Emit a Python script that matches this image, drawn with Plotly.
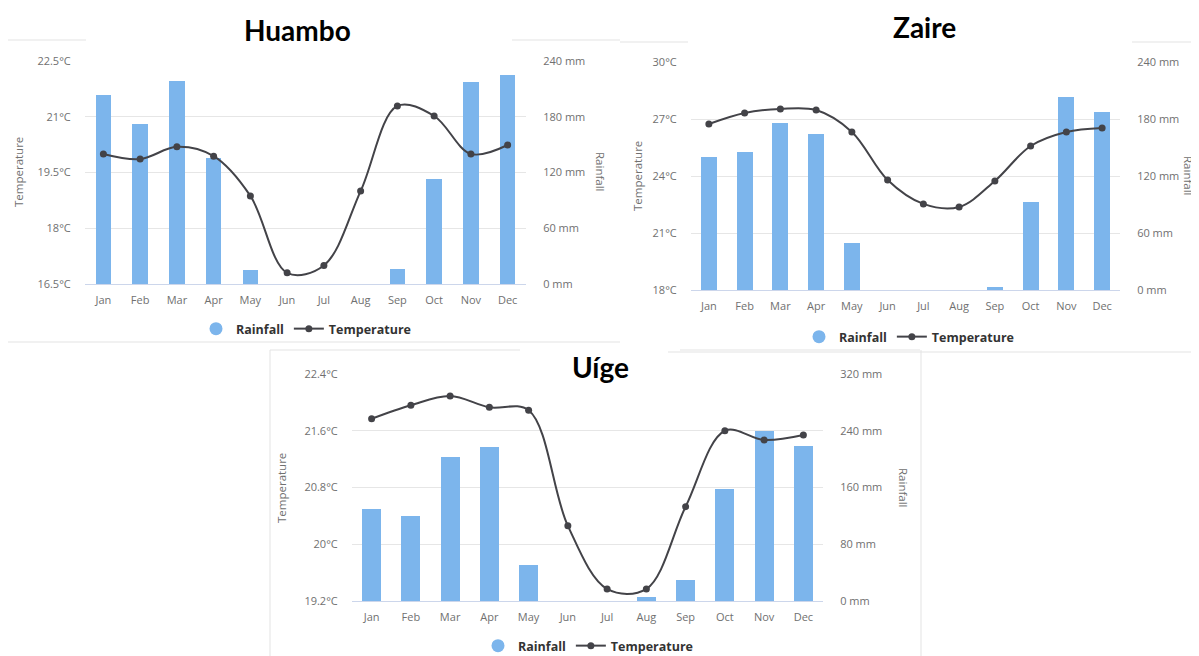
import plotly.graph_objects as go

months = ["Jan", "Feb", "Mar", "Apr", "May", "Jun", "Jul", "Aug", "Sep", "Oct", "Nov", "Dec"]

huambo_rain = [203, 172, 219, 136, 15, 0, 0, 0, 16, 113, 217, 225]
huambo_temp = [20.0, 19.86, 20.19, 19.94, 18.87, 16.8, 17.0, 19.0, 21.29, 21.02, 20.0, 20.24]

zaire_rain = [140, 145, 176, 164, 50, 0, 0, 0, 3, 93, 203, 187]
zaire_temp = [26.74, 27.32, 27.53, 27.47, 26.32, 23.79, 22.53, 22.37, 23.74, 25.58, 26.32, 26.53]

uige_rain = [130, 120, 203, 217, 51, 0, 0, 6, 30, 158, 240, 218]
uige_temp = [21.77, 21.96, 22.09, 21.93, 21.89, 20.26, 19.37, 19.37, 20.53, 21.6, 21.47, 21.54]

huambo_temp_ticks = [16.5, 18, 19.5, 21, 22.5]
huambo_temp_text = ["16.5°C", "18°C", "19.5°C", "21°C", "22.5°C"]
huambo_rain_ticks = [0, 60, 120, 180, 240]

zaire_temp_ticks = [18, 21, 24, 27, 30]
zaire_temp_text = ["18°C", "21°C", "24°C", "27°C", "30°C"]
zaire_rain_ticks = [0, 60, 120, 180, 240]

uige_temp_ticks = [19.2, 20, 20.8, 21.6, 22.4]
uige_temp_text = ["19.2°C", "20°C", "20.8°C", "21.6°C", "22.4°C"]
uige_rain_ticks = [0, 80, 160, 240, 320]

titles = ["Huambo", "Zaire", "Uíge"]

# page body has an 8px margin: the figure starts at (8, 8) and runs to the window edge
OFF = 8
W, H = 1199 - OFF, 656 - OFF
BAR = "#7cb5ec"
LINE = "#434348"
TICKFONT = dict(family="Open Sans", size=11, color="#707070")


def px(x):
    return (x - OFF) / W


def py(y):
    return 1 - (y - OFF) / H


panels = [
    dict(rain=huambo_rain, temp=huambo_temp, tt=huambo_temp_ticks, ttx=huambo_temp_text,
         rt=huambo_rain_ticks, trange=[16.5, 22.5], rrange=[0, 240],
         x0=85, x1=526, y0=61, y1=284, bw=0.42,
         title_xy=(297, 30), temp_title=(18, 172), rain_title=(601, 172), legend_xy=(306, 329)),
    dict(rain=zaire_rain, temp=zaire_temp, tt=zaire_temp_ticks, ttx=zaire_temp_text,
         rt=zaire_rain_ticks, trange=[18, 30], rrange=[0, 240],
         x0=691, x1=1120, y0=62, y1=290, bw=0.45,
         title_xy=(924, 27), temp_title=(637, 176), rain_title=(1189, 176), legend_xy=(909, 337)),
    dict(rain=uige_rain, temp=uige_temp, tt=uige_temp_ticks, ttx=uige_temp_text,
         rt=uige_rain_ticks, trange=[19.2, 22.4], rrange=[0, 320],
         x0=352, x1=823, y0=374, y1=601, bw=0.48,
         title_xy=(600, 367), temp_title=(281, 488), rain_title=(904, 488), legend_xy=(588, 646)),
]

fig = go.Figure()
layout = dict(width=W, height=H, margin=dict(l=0, r=0, t=0, b=0, pad=0, autoexpand=False),
              paper_bgcolor="white", plot_bgcolor="white", showlegend=True,
              bargap=0)
annotations = []
shapes = []

for i, p in enumerate(panels):
    xa = "x" if i == 0 else f"x{i+1}"
    ra = f"y{2*i+1}" if i > 0 else "y"
    ta = f"y{2*i+2}"
    lg = "legend" if i == 0 else f"legend{i+1}"
    xkey = "xaxis" if i == 0 else f"xaxis{i+1}"
    rkey = "yaxis" if i == 0 else f"yaxis{2*i+1}"
    tkey = f"yaxis{2*i+2}"

    fig.add_trace(go.Bar(x=months, y=p["rain"], xaxis=xa, yaxis=ra, name="Rainfall",
                         marker=dict(color=BAR, line=dict(width=0)), width=p["bw"],
                         showlegend=False, legend=lg, hoverinfo="skip"))
    fig.add_trace(go.Scatter(x=[None], y=[None], xaxis=xa, yaxis=ra, name="Rainfall",
                             mode="markers", marker=dict(symbol="circle", size=13, color=BAR),
                             legend=lg, showlegend=True))
    fig.add_trace(go.Scatter(x=months, y=p["temp"], xaxis=xa, yaxis=ta, name="Temperature",
                             mode="lines+markers", line=dict(color=LINE, width=2, shape="spline", smoothing=1),
                             marker=dict(color=LINE, size=7), legend=lg, showlegend=True))

    layout[xkey] = dict(domain=[px(p["x0"]), px(p["x1"])], anchor=ra, type="category",
                        range=[-0.5, 11.5], showline=True, linecolor="#ccd6eb", linewidth=1,
                        showgrid=False, tickfont=TICKFONT, ticks="outside", ticklen=6,
                        tickcolor="rgba(0,0,0,0)", fixedrange=True, automargin=False)
    layout[rkey] = dict(domain=[py(p["y1"]), py(p["y0"])], anchor=xa, side="right",
                        range=p["rrange"], tickvals=p["rt"], ticktext=[f"{v} mm" for v in p["rt"]],
                        showgrid=True, gridcolor="#e6e6e6", gridwidth=1, zeroline=False,
                        tickfont=TICKFONT, ticks="outside", ticklen=14, tickcolor="rgba(0,0,0,0)",
                        showline=False, automargin=False)
    layout[tkey] = dict(domain=[py(p["y1"]), py(p["y0"])], anchor=xa, side="left",
                        overlaying=ra, range=p["trange"], tickvals=p["tt"], ticktext=p["ttx"],
                        showgrid=False, zeroline=False, tickfont=TICKFONT, ticks="outside",
                        ticklen=11, tickcolor="rgba(0,0,0,0)", showline=False, automargin=False)
    layout[lg] = dict(x=px(p["legend_xy"][0]), y=py(p["legend_xy"][1]), xanchor="center",
                      yanchor="middle", orientation="h", bgcolor="rgba(0,0,0,0)",
                      font=dict(family="Open Sans", size=12.5, color="#333333", weight="bold"),
                      itemsizing="trace", traceorder="normal")

    annotations.append(dict(text=f"<b>{titles[i]}</b>", x=px(p["title_xy"][0]), y=py(p["title_xy"][1]),
                            xref="paper", yref="paper", showarrow=False, xanchor="center",
                            yanchor="middle", font=dict(family="Lato", size=28, color="black")))
    annotations.append(dict(text="Temperature", x=px(p["temp_title"][0]), y=py(p["temp_title"][1]),
                            xref="paper", yref="paper", showarrow=False, textangle=-90,
                            xanchor="center", yanchor="middle",
                            font=dict(family="Open Sans", size=11.5, color="#707070")))
    annotations.append(dict(text="Rainfall", x=px(p["rain_title"][0]), y=py(p["rain_title"][1]),
                            xref="paper", yref="paper", showarrow=False, textangle=90,
                            xanchor="center", yanchor="middle",
                            font=dict(family="Open Sans", size=11.5, color="#707070")))

# faint panel borders from the screenshot collage
border = dict(color="#e3e3e3", width=1)
segs = [
    (8, 40, 86, 40), (512, 40, 620, 40), (8, 342, 620, 342),
    (620, 42, 688, 42), (1132, 42, 1199, 42), (668, 352, 1199, 352),
    (270, 350, 520, 350), (680, 350, 920, 350), (270, 350, 270, 656), (921, 350, 921, 656),
]
for (a, b, c, d) in segs:
    shapes.append(dict(type="line", xref="paper", yref="paper", x0=px(a), y0=py(b), x1=px(c), y1=py(d),
                       line=border, layer="below"))

layout["annotations"] = annotations
layout["shapes"] = shapes
fig.update_layout(**layout)

fig.write_html("out.html")
